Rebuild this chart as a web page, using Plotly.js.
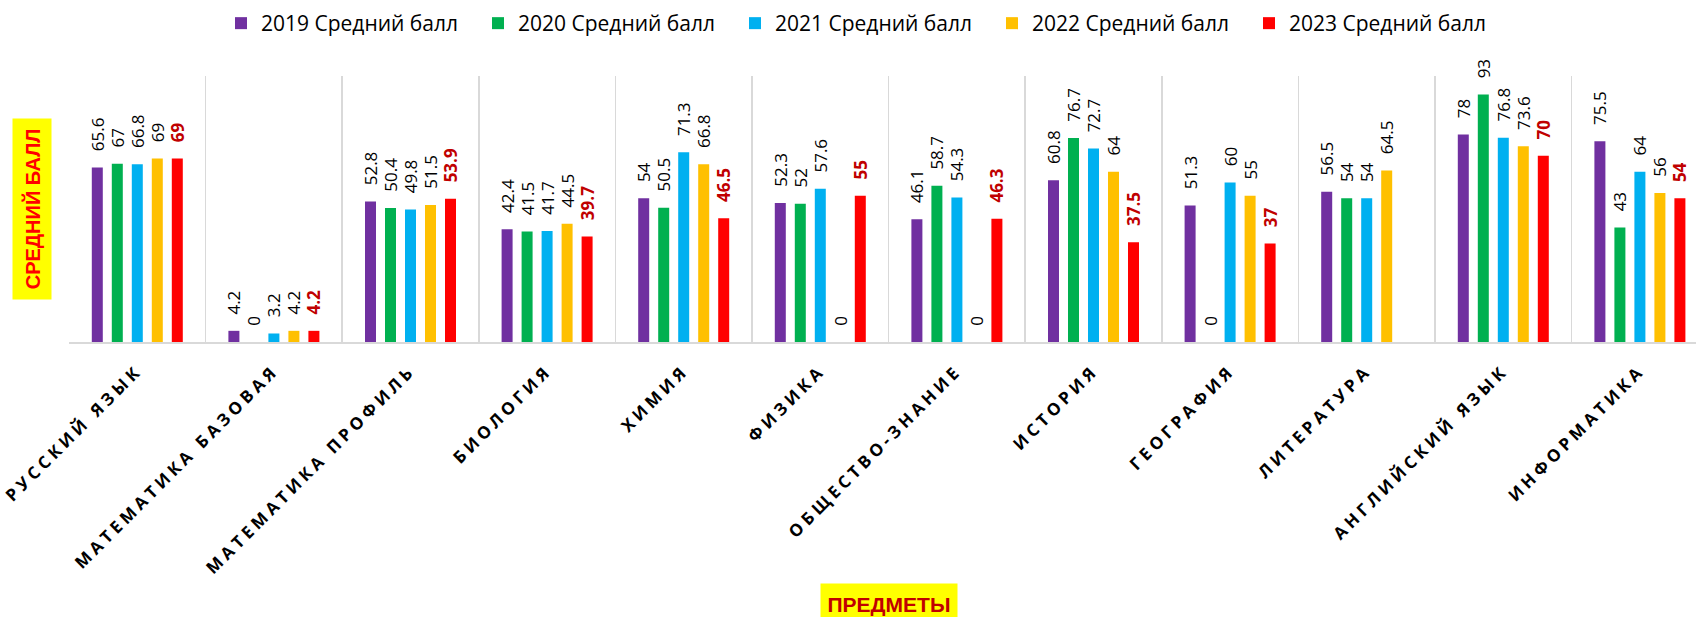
<!DOCTYPE html>
<html>
<head>
<meta charset="utf-8">
<script src="https://cdn.plot.ly/plotly-3.0.1.min.js"></script>
<style>
  html, body { margin: 0; padding: 0; background: #fff; }
  #chart { width: 1696px; height: 617px; }
  .xaxislayer-above .xtick text { letter-spacing: 4px; }
</style>
</head>
<body>
<div id="chart"></div>
<script>
// ---- data ----
const categories = [
  'РУССКИЙ ЯЗЫК', 'МАТЕМАТИКА БАЗОВАЯ', 'МАТЕМАТИКА ПРОФИЛЬ', 'БИОЛОГИЯ', 'ХИМИЯ',
  'ФИЗИКА', 'ОБЩЕСТВО-ЗНАНИЕ', 'ИСТОРИЯ', 'ГЕОГРАФИЯ', 'ЛИТЕРАТУРА',
  'АНГЛИЙСКИЙ ЯЗЫК', 'ИНФОРМАТИКА'
];
const seriesNames = ['2019 Средний балл', '2020 Средний балл', '2021 Средний балл', '2022 Средний балл', '2023 Средний балл'];
const v2019 = [65.6, 4.2, 52.8, 42.4, 54, 52.3, 46.1, 60.8, 51.3, 56.5, 78, 75.5];
const v2020 = [67, 0, 50.4, 41.5, 50.5, 52, 58.7, 76.7, 0, 54, 93, 43];
const v2021 = [66.8, 3.2, 49.8, 41.7, 71.3, 57.6, 54.3, 72.7, 60, 54, 76.8, 64];
const v2022 = [69, 4.2, 51.5, 44.5, 66.8, 0, 0, 64, 55, 64.5, 73.6, 56];
const v2023 = [69, 4.2, 53.9, 39.7, 46.5, 55, 46.3, 37.5, 37, null, 70, 54];
const yTitle = 'СРЕДНИЙ БАЛЛ';
const xTitle = 'ПРЕДМЕТЫ';

// ---- styles ----
const colors = ['#7030A0', '#00B050', '#00B0F0', '#FFC000', '#FF0000'];
const allValues = [v2019, v2020, v2021, v2022, v2023];
const pad = '\u00a0\u00a0\u00a0';

const traces = allValues.map((vals, i) => {
  const last = i === allValues.length - 1;
  return {
    type: 'bar',
    name: seriesNames[i],
    x: categories,
    y: vals,
    marker: { color: colors[i] },
    texttemplate: pad + '%{y}',
    textposition: 'outside',
    textangle: -90,
    constraintext: 'none',
    cliponaxis: false,
    textfont: {
      family: 'Open Sans, sans-serif',
      size: 17,
      color: last ? '#C00000' : '#000000',
      weight: last ? 'bold' : 'normal'
    },
    hoverinfo: 'skip'
  };
});

const plotW = 1696 - 69;
const catW = 136.6;

const layout = {
  width: 1696,
  height: 617,
  margin: { l: 69, r: 0, t: 76, b: 275, pad: 0 },
  paper_bgcolor: '#ffffff',
  plot_bgcolor: '#ffffff',
  barmode: 'group',
  bargap: 0.268,
  bargroupgap: 0.45,
  showlegend: true,
  legend: {
    orientation: 'h',
    xref: 'container', yref: 'container',
    x: 221 / 1696, xanchor: 'left',
    y: 1 - 3 / 617, yanchor: 'top',
    font: { family: 'Open Sans, sans-serif', size: 21, color: '#000' },
    itemwidth: 30,
    entrywidth: 212,
    traceorder: 'normal',
    bgcolor: 'rgba(0,0,0,0)'
  },
  xaxis: {
    type: 'category',
    range: [-0.5, -0.5 + plotW / catW],
    tickson: 'boundaries',
    showgrid: true,
    gridcolor: '#d9d9d9',
    gridwidth: 1.5,
    showline: true,
    linecolor: '#d9d9d9',
    linewidth: 2,
    ticks: '',
    tickangle: -45,
    tickfont: { family: 'Open Sans, sans-serif', size: 17, color: '#000', weight: 'bold' },
    ticklabelstandoff: 10,
    automargin: false,
    fixedrange: true
  },
  yaxis: {
    range: [0, 100],
    showgrid: false,
    zeroline: false,
    showline: false,
    showticklabels: false,
    ticks: '',
    automargin: false,
    fixedrange: true
  },
  annotations: [
    {
      text: '<b>' + yTitle + '</b>',
      xref: 'paper', yref: 'paper',
      x: (32 - 69) / plotW, y: 0.5,
      xanchor: 'center', yanchor: 'middle',
      textangle: -90,
      showarrow: false,
      bgcolor: '#FFFF00',
      width: 180, height: 38, borderpad: 0,
      font: { family: 'Liberation Sans, Arial, sans-serif', size: 20, color: '#FF0000' }
    },
    {
      text: '<b>' + xTitle + '</b>',
      xref: 'paper', yref: 'paper',
      x: (889 - 69) / plotW, y: -(604.5 - 342.5) / 266,
      xanchor: 'center', yanchor: 'middle',
      showarrow: false,
      bgcolor: '#FFFF00',
      width: 136, height: 41, borderpad: 0,
      font: { family: 'Liberation Sans, Arial, sans-serif', size: 21, color: '#C00000' }
    }
  ]
};

Plotly.newPlot('chart', traces, layout, { displayModeBar: false, staticPlot: true });
</script>
</body>
</html>
